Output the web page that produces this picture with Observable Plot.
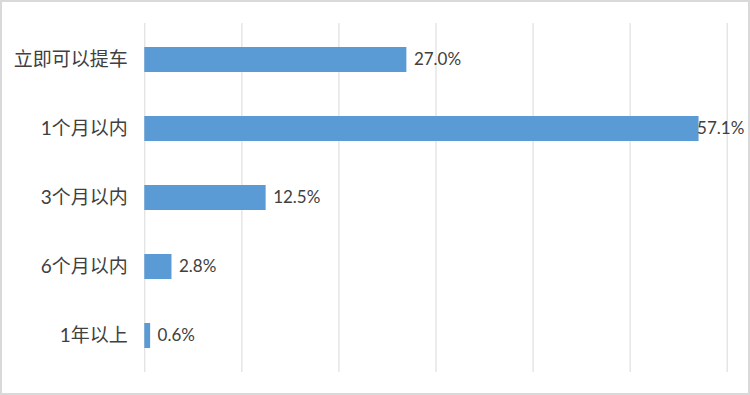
<!DOCTYPE html>
<html>
<head>
<meta charset="utf-8">
<script src="https://cdn.jsdelivr.net/npm/d3@7"></script>
<script src="https://cdn.jsdelivr.net/npm/@observablehq/plot@0.6"></script>
<style>
  html, body { margin: 0; padding: 0; background: #fff; }
  #chart svg { display: block; outline: 2px solid #d9d9d9; outline-offset: -2px; }
  #chart svg g[aria-label="y-axis tick label"] { font-size: 19px; }
</style>
</head>
<body>
<div id="chart"></div>
<script>
const categories = ["立即可以提车", "1个月以内", "3个月以内", "6个月以内", "1年以上"];
const values = [27.0, 57.1, 12.5, 2.8, 0.6];
const gridTicks = [0, 10, 20, 30, 40, 50, 60];

const data = categories.map((c, i) => ({category: c, value: values[i]}));
const font = "Lato, 'Noto Sans CJK SC', sans-serif";

const chart = Plot.plot({
  width: 750,
  height: 395,
  marginLeft: 144.3,
  marginRight: 23.3,
  marginTop: 23,
  marginBottom: 23,
  style: {fontFamily: font, fontSize: "17px", color: "#404040", background: "#fff"},
  x: {domain: [0, 60], axis: null},
  y: {domain: categories, paddingInner: 0.64, paddingOuter: 0.32, label: null, tickSize: 0, tickPadding: 17},
  marks: [
    Plot.ruleX(gridTicks, {stroke: "#d9d9d9", strokeWidth: 1}),
    Plot.barX(data, {y: "category", x: "value", fill: "#5B9BD5"}),
    Plot.text(data.filter(d => d.value < 50), {
      y: "category", x: "value", text: d => d.value.toFixed(1) + "%",
      textAnchor: "start", dx: 7, fill: "#404040", fontSize: 17
    }),
    Plot.text(data.filter(d => d.value >= 50), {
      y: "category", x: "value", text: d => d.value.toFixed(1) + "%",
      textAnchor: "start", dx: -2, fill: "#404040", fontSize: 17
    })
  ]
});
document.getElementById("chart").appendChild(chart);
</script>
</body>
</html>
